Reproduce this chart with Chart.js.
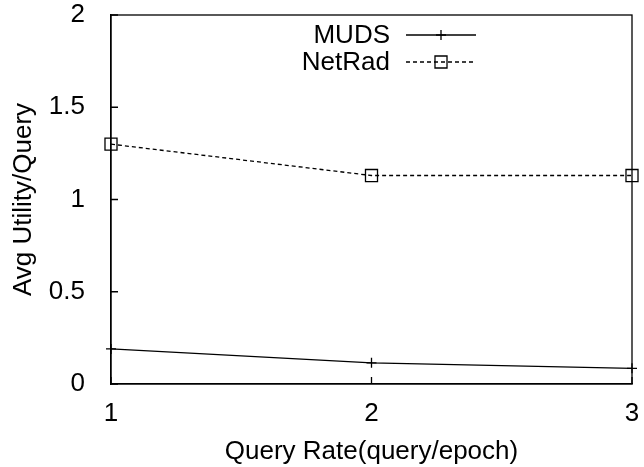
<!DOCTYPE html>
<html lang="en">
<head>
  <meta charset="UTF-8" />
  <title>Avg Utility per Query</title>
  <script src="https://cdn.jsdelivr.net/npm/chart.js@4.4.1"></script>
  <style>
    html, body { margin: 0; padding: 0; background: #fff; }
    #wrap { width: 644px; height: 467px; }
  </style>
</head>
<body>
<div id="wrap"><canvas id="myChart" width="644" height="467"></canvas></div>

<script>
  // values
  var rates  = ['1', '2', '3'];
  var muds   = [0.19, 0.115, 0.085];
  var netrad = [1.30, 1.13, 1.13];
  var yTicks = [0, 0.5, 1, 1.5, 2];

  var FONT = 'Liberation Sans, Arial, sans-serif';
  Chart.defaults.font.family = FONT;
  Chart.defaults.font.size = 26;
  Chart.defaults.color = '#000';

  // gnuplot style box + inward ticks + key
  var framePlugin = {
    id: 'frame',
    afterDraw: function(c){
      var ctx = c.ctx, a = c.chartArea;
      var xs = c.scales.x, ys = c.scales.y;
      ctx.save();
      ctx.strokeStyle = '#000';
      ctx.lineWidth = 1.3;
      ctx.strokeRect(a.left, a.top, a.right - a.left, a.bottom - a.top);
      ctx.beginPath();
      for (var i = 0; i < yTicks.length; i++) {
        var py = ys.getPixelForValue(yTicks[i]);
        ctx.moveTo(a.left, py); ctx.lineTo(a.left + 7, py);
      }
      for (var j = 0; j < rates.length; j++) {
        var px = xs.getPixelForValue(j);
        ctx.moveTo(px, a.bottom); ctx.lineTo(px, a.bottom - 7);
      }
      ctx.stroke();

      // key
      var rows = [35, 62];
      c.data.datasets.forEach(function(ds, k){
        var y = rows[k];
        ctx.font = '26px ' + FONT;
        ctx.fillStyle = '#000';
        ctx.textAlign = 'right';
        ctx.textBaseline = 'middle';
        ctx.fillText(ds.label, 390, y + 1);
        ctx.lineWidth = ds.borderWidth;
        ctx.setLineDash(ds.borderDash || []);
        ctx.beginPath(); ctx.moveTo(406, y); ctx.lineTo(476, y); ctx.stroke();
        ctx.setLineDash([]);
        ctx.lineWidth = ds.pointBorderWidth;
        var r = ds.pointRadius, cx = 441;
        ctx.beginPath();
        if (ds.pointStyle === 'cross') {
          ctx.moveTo(cx - r, y); ctx.lineTo(cx + r, y);
          ctx.moveTo(cx, y - r); ctx.lineTo(cx, y + r);
        } else {
          var s = r * Math.SQRT1_2;
          ctx.rect(cx - s, y - s, 2 * s, 2 * s);
        }
        ctx.stroke();
      });
      ctx.restore();
    }
  };

  var ctx = document.getElementById('myChart');
  var chart = new Chart(ctx, {
    type: 'line',
    data: {
      labels: rates,
      datasets: [
        { label: 'MUDS', data: muds, borderColor: '#000', backgroundColor: '#000',
          borderWidth: 1.3, pointStyle: 'cross', pointRadius: 5, pointBorderWidth: 1.3,
          pointBorderColor: '#000', pointBackgroundColor: 'rgba(0,0,0,0)', tension: 0, clip: false },
        { label: 'NetRad', data: netrad, borderColor: '#000', backgroundColor: '#000',
          borderWidth: 1.3, borderDash: [4, 3], pointStyle: 'rect', pointRadius: 8.5, pointBorderWidth: 1.3,
          pointBorderColor: '#000', pointBackgroundColor: 'rgba(0,0,0,0)', tension: 0, clip: false }
      ]
    },
    options: {
      responsive: false,
      animation: false,
      devicePixelRatio: 1,
      layout: { padding: { top: 15, right: 12, left: 0, bottom: 0 } },
      plugins: { legend: { display: false }, tooltip: { enabled: false } },
      scales: {
        x: {
          offset: false,
          grid: { display: false },
          border: { display: true, color: '#000', width: 1.3 },
          ticks: { padding: 6, maxRotation: 0, autoSkip: false, font: { size: 26 } },
          title: { display: true, text: 'Query Rate(query/epoch)', font: { size: 26 }, padding: { top: 0, bottom: 0 } },
          afterFit: function(s){ s.height = 83; s.paddingLeft = 0; s.paddingRight = 0; }
        },
        y: {
          min: 0, max: 2,
          grid: { display: false },
          border: { display: true, color: '#000', width: 1.3 },
          ticks: { stepSize: 0.5, padding: 18, font: { size: 26 },
                   callback: function(v){ return String(v); } },
          title: { display: true, text: 'Avg Utility/Query', font: { size: 26 }, padding: { top: 8, bottom: 0 } },
          afterFit: function(s){ s.width = 111; s.paddingTop = 0; s.paddingBottom = 0; }
        }
      }
    },
    plugins: [framePlugin]
  });
</script>
</body>
</html>
